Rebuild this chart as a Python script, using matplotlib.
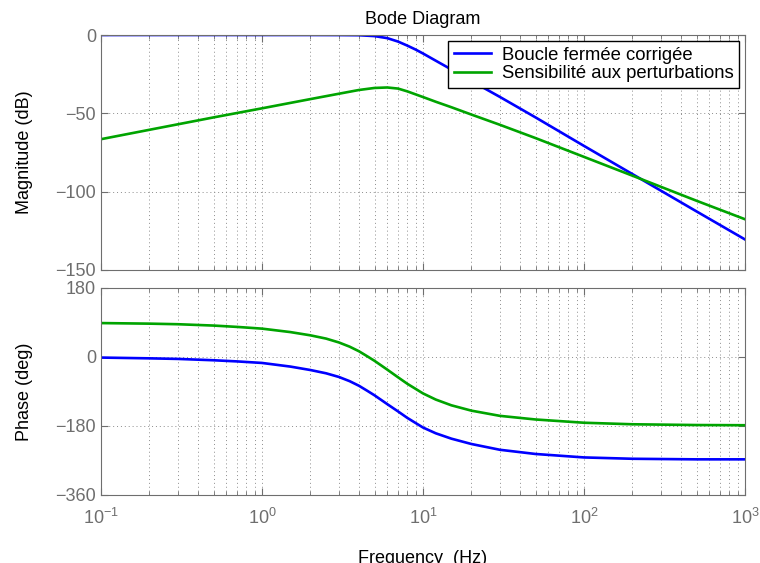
import numpy as np
import matplotlib
matplotlib.use('Agg')
import matplotlib.pyplot as plt

plt.rcParams['font.family'] = ['Liberation Sans', 'DejaVu Sans']
plt.rcParams['font.size'] = 13

# values (frequency in Hz)
f_mag = [0.1, 0.2, 0.5, 1, 2, 3, 4, 5, 6, 7, 8, 9, 10, 12, 15, 20, 30, 50, 100, 200, 500, 1000]
mag_boucle = [0, 0, 0, 0, 0, -0.05, -0.15, -0.7, -2.0, -4.2, -6.8, -9.3, -11.8, -16.4, -22.0,
              -29.4, -39.5, -52.6, -70.8, -88.8, -112.6, -130.5]
mag_sensib = [-66.5, -60.5, -52.6, -46.8, -40.9, -37.5, -35.1, -33.8, -33.5, -34.2, -36.0, -37.9,
              -39.6, -42.6, -46.1, -50.8, -57.3, -65.8, -77.8, -89.8, -105.8, -117.6]

f_phase = [0.1, 0.2, 0.3, 0.5, 0.7, 1, 1.5, 2, 2.5, 3, 3.5, 4, 4.5, 5, 5.5, 6, 7, 8, 10, 12,
           15, 20, 30, 50, 100, 200, 500, 1000]
phase_boucle = [-1.5, -3.5, -5, -8.5, -11.5, -15.5, -25, -34, -42.5, -52, -63, -75, -88,
                -100, -112, -123, -142, -159, -184, -199, -213, -227, -242, -253, -262,
                -265.5, -267, -267]
phase_sensib = [88.5, 87, 85.5, 82, 78.5, 74, 65, 56.5, 48, 38, 27, 15, 2, -10, -22, -33,
                -53, -70, -95, -111, -126, -140, -153.5, -163, -171.5, -175.5, -177.5, -178]

labels = ['Boucle fermée corrigée', 'Sensibilité aux perturbations']
c_blue = '#0000ff'
c_green = '#00a400'
gray = '#6e6e6e'

fig = plt.figure(figsize=(7.6, 5.63), dpi=100)
ax1 = fig.add_axes([101 / 760, 1 - 270 / 563, 644 / 760, 235 / 563])
ax2 = fig.add_axes([101 / 760, 1 - 495 / 563, 644 / 760, 207 / 563], sharex=ax1)

ax1.plot(f_mag, mag_boucle, color=c_blue, lw=1.9, label=labels[0])
ax1.plot(f_mag, mag_sensib, color=c_green, lw=1.9, label=labels[1])
ax2.plot(f_phase, phase_boucle, color=c_blue, lw=1.9)
ax2.plot(f_phase, phase_sensib, color=c_green, lw=1.9)

for ax in (ax1, ax2):
    ax.set_xscale('log')
    ax.set_xlim(0.1, 1000)
    ax.grid(True, which='major', linestyle=(0, (1, 3)), color='#8c8c8c', lw=0.7)
    ax.grid(True, which='minor', axis='x', linestyle=(0, (1, 3)), color='#8c8c8c', lw=0.7)
    ax.tick_params(which='both', direction='in', top=True, right=True, colors=gray,
                   labelcolor=gray, labelsize=13)
    ax.tick_params(which='major', length=5)
    ax.tick_params(which='minor', length=3)
    for s in ax.spines.values():
        s.set_color(gray)

ax1.set_ylim(-150, 0)
ax1.set_yticks([0, -50, -100, -150])
ax1.tick_params(labelbottom=False)
ax1.set_title('Bode Diagram', fontsize=13, pad=8)
ax1.set_ylabel('Magnitude (dB)')
ax1.yaxis.set_label_coords(-0.106, 0.5)

ax2.set_ylim(-360, 180)
ax2.set_yticks([180, 0, -180, -360])
ax2.set_ylabel('Phase (deg)')
ax2.yaxis.set_label_coords(-0.106, 0.5)
ax2.tick_params(axis='x', pad=9.5)

ax1.legend(loc='upper right', bbox_to_anchor=(0.991, 0.974), borderaxespad=0,
           fancybox=False, edgecolor='black', framealpha=1, fontsize=13.3,
           handlelength=2.0, handletextpad=0.6, labelspacing=0.1, borderpad=0.3)
ax1.get_legend().get_frame().set_linewidth(1.0)

# the reference shows this label clipped by the bottom edge
fig.text(423 / 760, 1 - 550 / 563, 'Frequency  (Hz)', ha='center', va='top', fontsize=13)

fig.savefig('out.png', dpi=100)
